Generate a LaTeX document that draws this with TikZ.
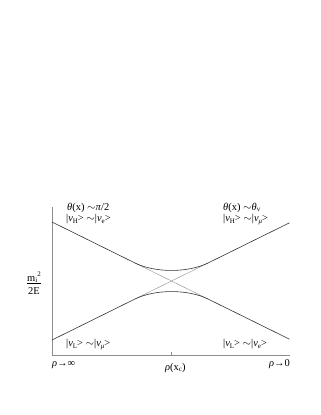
\documentclass[tikz,border=0pt]{standalone}
\usepackage{fontspec}
\setmainfont{Liberation Serif}
\newcommand{\lsub}[1]{\raisebox{-0.35ex}{\scriptsize #1}}
\newcommand{\gk}[1]{\textit{#1}}
\tikzset{
  lbl/.style={font=\fontsize{10.5}{12}\selectfont, inner sep=0pt, anchor=base west},
  axis/.style={draw=black!45, line width=0.6pt},
  level/.style={draw=black!80, line width=0.6pt},
  thin level/.style={draw=black!45, line width=0.4pt},
}
\begin{document}
\begin{tikzpicture}[x=1bp,y=-1bp]
\useasboundingbox (0,0) rectangle (321,415);
% axes
\coordinate (o) at (52,355);
\coordinate (ytop) at (52,207);
\coordinate (xend) at (290,355);
\coordinate (tick) at (171.5,355);
\coordinate (tickt) at (171.5,351.5);
\draw[axis] (ytop) -- (o) -- (xend);
\draw[axis] (tick) -- (tickt);
% levels
\coordinate (dA) at (52,222);
\coordinate (dB) at (135,263);
\coordinate (dC) at (208,299);
\coordinate (dD) at (289.5,339.2);
\coordinate (aA) at (52,340);
\coordinate (aB) at (135,299);
\coordinate (aC) at (208,263);
\coordinate (aD) at (289.5,222.8);
\draw[level] (dA) -- (dB);
\draw[level] (dC) -- (dD);
\draw[level] (aA) -- (aB);
\draw[level] (aC) -- (aD);
\draw[thin level] (dB) -- (dC);
\draw[thin level] (aB) -- (aC);
\draw[level] (dB) .. controls (155,272.9) and (188,272.9) .. (aC);
\draw[level] (aB) .. controls (155,289.1) and (188,289.1) .. (dC);
% labels
\node[lbl] (tl1) at (67,210) {\gk{θ}(x) $\sim$\gk{π}/2};
\node[lbl] (tl2) at (66,221.5) {|\gk{ν}\lsub{H}> $\sim$|\gk{ν}\lsub{e}>};
\node[lbl] (tr1) at (223,210) {\gk{θ}(x) $\sim$\gk{θ}\lsub{v}};
\node[lbl] (tr2) at (223,221.5) {|\gk{ν}\lsub{H}> $\sim$|\gk{ν}\lsub{\gk{μ}}>};
\node[lbl] (bl) at (66,346.5) {|\gk{ν}\lsub{L}> $\sim$|\gk{ν}\lsub{\gk{μ}}>};
\node[lbl] (br) at (223,346.5) {|\gk{ν}\lsub{L}> $\sim$|\gk{ν}\lsub{e}>};
\node[lbl] (x1) at (52,366) {\gk{ρ}→∞};
\node[lbl] (x2) at (165,370) {\gk{ρ}(x\lsub{c})};
\node[lbl, anchor=base east] (x3) at (290,366) {\gk{ρ}→0};
\node[font=\fontsize{10.5}{12}\selectfont, inner sep=0pt] (ylab) at (34,285)
  {\begin{tabular}{@{}c@{}}m\lsub{i}\raisebox{0.9ex}{\scriptsize 2}\\[-1.5pt]\hline\rule{0pt}{2.2ex}2E\end{tabular}};
\end{tikzpicture}
\end{document}
